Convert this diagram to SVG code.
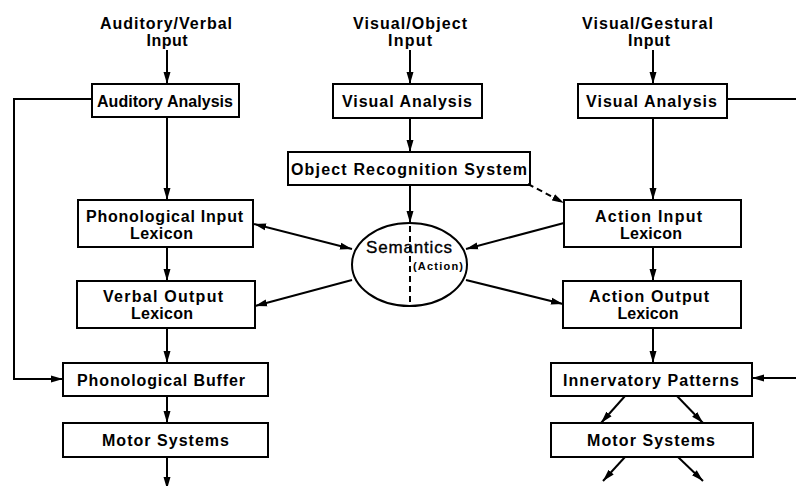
<svg xmlns="http://www.w3.org/2000/svg" width="796" height="486" viewBox="0 0 796 486">
  <defs>
    <style>
      .box { fill: #fff; stroke: #000; stroke-width: 2; }
      .lbl { font-family: "Liberation Sans", Arial, sans-serif; font-weight: bold; font-size: 16px; text-anchor: middle; fill: #000; }
      .sem { font-family: "Liberation Sans", Arial, sans-serif; font-size: 17px; text-anchor: middle; fill: #000; stroke: #000; stroke-width: 0.35; }
      .sub { font-family: "Liberation Sans", Arial, sans-serif; font-weight: bold; font-size: 11px; fill: #000; }
      .wire { fill: none; stroke: #000; stroke-width: 2; }
      .dash { fill: none; stroke: #000; stroke-width: 2; stroke-dasharray: 6 4; }
    </style>
    <marker id="ah" viewBox="0 0 12 8" refX="12" refY="4" markerWidth="12" markerHeight="8" markerUnits="userSpaceOnUse" orient="auto-start-reverse">
      <path d="M0,0.5 L12,4 L0,7.5 Z" fill="#000"/>
    </marker>
  </defs>
  <rect width="796" height="486" fill="#fff"/>

  <!-- input labels -->
  <g id="in-auditory">
    <text class="lbl" x="166" y="29" textLength="132" lengthAdjust="spacing">Auditory/Verbal</text>
    <text class="lbl" x="167" y="46" textLength="41" lengthAdjust="spacing">Input</text>
  </g>
  <g id="in-object">
    <text class="lbl" x="410" y="29" textLength="114" lengthAdjust="spacing">Visual/Object</text>
    <text class="lbl" x="410" y="46" textLength="44" lengthAdjust="spacing">Input</text>
  </g>
  <g id="in-gestural">
    <text class="lbl" x="647.5" y="29" textLength="131" lengthAdjust="spacing">Visual/Gestural</text>
    <text class="lbl" x="649" y="46" textLength="42" lengthAdjust="spacing">Input</text>
  </g>

  <!-- left column -->
  <g id="auditory-analysis">
    <rect class="box" x="92" y="84" width="147" height="33"/>
    <text class="lbl" x="165" y="106.5" textLength="136" lengthAdjust="spacing">Auditory Analysis</text>
  </g>
  <g id="phon-input-lexicon">
    <rect class="box" x="78" y="200" width="175" height="47"/>
    <text class="lbl" x="164.5" y="221.5" textLength="157" lengthAdjust="spacing">Phonological Input</text>
    <text class="lbl" x="161.5" y="238.5" textLength="63" lengthAdjust="spacing">Lexicon</text>
  </g>
  <g id="verbal-output-lexicon">
    <rect class="box" x="77" y="281" width="178" height="47"/>
    <text class="lbl" x="163" y="302" textLength="120" lengthAdjust="spacing">Verbal Output</text>
    <text class="lbl" x="162" y="318.5" textLength="62" lengthAdjust="spacing">Lexicon</text>
  </g>
  <g id="phon-buffer">
    <rect class="box" x="63" y="363" width="205" height="33"/>
    <text class="lbl" x="161" y="385.5" textLength="168" lengthAdjust="spacing">Phonological Buffer</text>
  </g>
  <g id="motor-left">
    <rect class="box" x="63" y="423" width="205" height="34"/>
    <text class="lbl" x="165.5" y="446" textLength="127" lengthAdjust="spacing">Motor Systems</text>
  </g>

  <!-- centre column -->
  <g id="visual-analysis-obj">
    <rect class="box" x="333" y="84" width="149" height="34"/>
    <text class="lbl" x="407" y="107" textLength="130" lengthAdjust="spacing">Visual Analysis</text>
  </g>
  <g id="object-recognition">
    <rect class="box" x="288" y="152" width="242" height="33"/>
    <text class="lbl" x="409" y="175" textLength="236" lengthAdjust="spacing">Object Recognition System</text>
  </g>
  <g id="semantics">
    <ellipse class="box" cx="409.5" cy="264.5" rx="57.5" ry="41.5"/>
    <text class="sem" x="409" y="253" textLength="86" lengthAdjust="spacing">Semantics</text>
    <text class="sub" x="413" y="270" textLength="50" lengthAdjust="spacing">(Action)</text>
  </g>

  <!-- right column -->
  <g id="visual-analysis-gest">
    <rect class="box" x="578" y="84" width="149" height="34"/>
    <text class="lbl" x="651.5" y="107" textLength="131" lengthAdjust="spacing">Visual Analysis</text>
  </g>
  <g id="action-input-lexicon">
    <rect class="box" x="564" y="200" width="177" height="47"/>
    <text class="lbl" x="648.5" y="221.5" textLength="107" lengthAdjust="spacing">Action Input</text>
    <text class="lbl" x="651" y="238.5" textLength="62" lengthAdjust="spacing">Lexicon</text>
  </g>
  <g id="action-output-lexicon">
    <rect class="box" x="563" y="281" width="178" height="47"/>
    <text class="lbl" x="649" y="302" textLength="120" lengthAdjust="spacing">Action Output</text>
    <text class="lbl" x="648" y="318.5" textLength="61" lengthAdjust="spacing">Lexicon</text>
  </g>
  <g id="innervatory-patterns">
    <rect class="box" x="551" y="363" width="201" height="33"/>
    <text class="lbl" x="651" y="385.5" textLength="176" lengthAdjust="spacing">Innervatory Patterns</text>
  </g>
  <g id="motor-right">
    <rect class="box" x="551" y="423" width="202" height="34"/>
    <text class="lbl" x="651" y="446" textLength="128" lengthAdjust="spacing">Motor Systems</text>
  </g>

  <!-- connectors -->
  <g id="connectors">
    <line class="wire" x1="167" y1="50" x2="167" y2="84" marker-end="url(#ah)"/>
    <line class="wire" x1="410" y1="50" x2="410" y2="84" marker-end="url(#ah)"/>
    <line class="wire" x1="653" y1="50" x2="653" y2="84" marker-end="url(#ah)"/>

    <line class="wire" x1="167" y1="117" x2="167" y2="200" marker-end="url(#ah)"/>
    <path class="wire" d="M92,99 H14 V379 H63" marker-end="url(#ah)"/>
    <line class="wire" x1="167" y1="247" x2="167" y2="281" marker-end="url(#ah)"/>
    <line class="wire" x1="167" y1="328" x2="167" y2="363" marker-end="url(#ah)"/>
    <line class="wire" x1="167" y1="396" x2="167" y2="423" marker-end="url(#ah)"/>
    <line class="wire" x1="167" y1="457" x2="167" y2="489" marker-end="url(#ah)"/>

    <line class="wire" x1="410" y1="118" x2="410" y2="152" marker-end="url(#ah)"/>
    <line class="wire" x1="410" y1="185" x2="410" y2="223" marker-end="url(#ah)"/>
    <line class="dash" x1="410" y1="226" x2="410" y2="306"/>
    <line class="dash" x1="528" y1="184" x2="564" y2="203" marker-end="url(#ah)"/>

    <line class="wire" x1="254" y1="224" x2="352" y2="249" marker-start="url(#ah)" marker-end="url(#ah)"/>
    <line class="wire" x1="352" y1="280" x2="255" y2="306" marker-end="url(#ah)"/>
    <line class="wire" x1="564" y1="223" x2="466" y2="249" marker-end="url(#ah)"/>
    <line class="wire" x1="466" y1="280" x2="563" y2="304" marker-end="url(#ah)"/>

    <line class="wire" x1="653" y1="118" x2="653" y2="200" marker-end="url(#ah)"/>
    <line class="wire" x1="727" y1="99" x2="796" y2="99"/>
    <line class="wire" x1="653" y1="247" x2="653" y2="281" marker-end="url(#ah)"/>
    <line class="wire" x1="653" y1="328" x2="653" y2="363" marker-end="url(#ah)"/>
    <line class="wire" x1="796" y1="378" x2="752" y2="378" marker-end="url(#ah)"/>

    <line class="wire" x1="625" y1="396" x2="601" y2="423" marker-end="url(#ah)"/>
    <line class="wire" x1="677" y1="396" x2="703" y2="423" marker-end="url(#ah)"/>
    <line class="wire" x1="625" y1="457" x2="603" y2="481" marker-end="url(#ah)"/>
    <line class="wire" x1="678" y1="457" x2="703" y2="481" marker-end="url(#ah)"/>
  </g>
</svg>
